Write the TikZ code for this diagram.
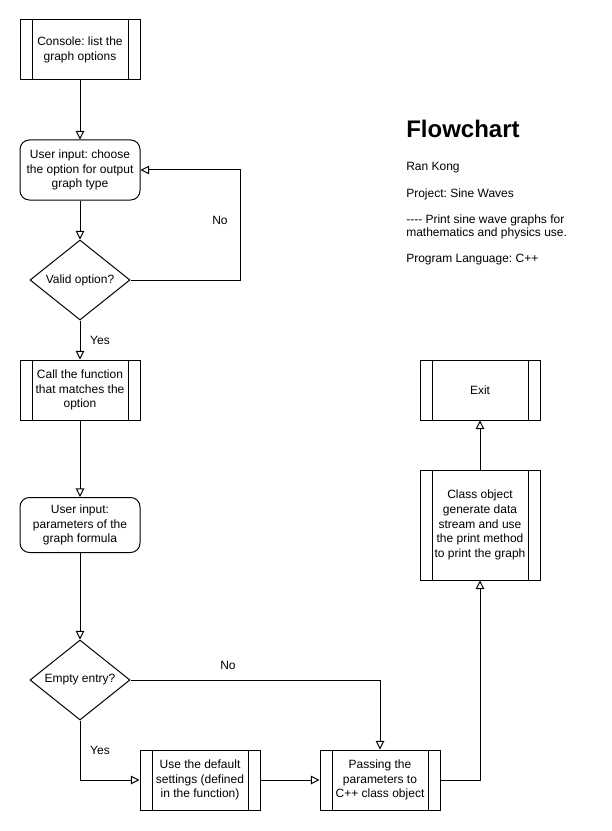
\documentclass[tikz,border=0pt]{standalone}
\usepackage{fontspec}
\setmainfont{Liberation Sans}
\frenchspacing
\usetikzlibrary{arrows.meta,shapes.geometric}
\begin{document}
\begin{tikzpicture}[x=0.75pt,y=-0.75pt,
  base/.style={draw, line width=0.75pt, font=\fontsize{9pt}{11pt}\selectfont\frenchspacing, align=center, inner sep=0pt},
  proc/.style={base, minimum width=90pt, minimum height=45pt,
    path picture={
      \draw[line width=0.75pt] ([xshift=9pt]path picture bounding box.north west) -- ([xshift=9pt]path picture bounding box.south west);
      \draw[line width=0.75pt] ([xshift=-9pt]path picture bounding box.north east) -- ([xshift=-9pt]path picture bounding box.south east);}},
  rbox/.style={base, rounded corners=7pt, minimum width=90pt, minimum height=45pt},
  dec/.style={base, diamond, aspect=1.25, minimum width=75pt, minimum height=60pt},
  lbl/.style={font=\fontsize{9pt}{11pt}\selectfont, inner sep=0pt},
  txt/.style={font=\fontsize{9pt}{10.3pt}\selectfont\frenchspacing, inner sep=0pt, anchor=base west},
  arr/.style={line width=0.75pt, -{Triangle[open, length=6.5pt, width=6.5pt]}}
]
\fill[white] (0,0) rectangle (611,831);
\useasboundingbox (0,0) rectangle (611,831);

% nodes
\node[proc] (console) at (80,50) {Console: list the\\graph options};
\node[rbox] (ui1) at (80,170) {User input: choose\\the option for output\\graph type};
\node[dec] (valid) at (80,280) {Valid option?};
\node[proc] (call) at (80,390) {Call the function\\that matches the\\option};
\node[rbox, minimum height=41.25pt] (ui2) at (80,525) {User input:\\parameters of the\\graph formula};
\node[dec] (empty) at (80,680) {Empty entry?};
\node[proc] (default) at (200,780) {Use the default\\settings (defined\\in the function)};
\node[proc] (pass) at (380,780) {Passing the\\parameters to\\C++ class object};
\node[proc, minimum height=82.5pt] (class) at (480,525) {Class object\\generate data\\stream and use\\the print method\\to print the graph};
\node[proc] (exit) at (480,390) {Exit};

% labels
\node[lbl] (no1) at (220,220) {No};
\node[lbl] (yes1) at (100,340) {Yes};
\node[lbl] (no2) at (228,665) {No};
\node[lbl] (yes2) at (100,750) {Yes};

% text block
\node[txt, font=\fontsize{18pt}{20pt}\selectfont\bfseries] (title) at (406,138) {Flowchart};
\node[txt] (author) at (406,171) {Ran Kong};
\node[txt] (project) at (406,197) {Project: Sine Waves};
\node[txt] (desc1) at (406,223) {{-}{-}{-}{-} Print sine wave graphs for};
\node[txt] (desc2) at (406,236.7) {mathematics and physics use.};
\node[txt] (lang) at (406,262) {Program Language: C++};

% connectors
\draw[arr] (console.south) -- (ui1.north);
\draw[arr] (ui1.south) -- (valid.north);
\coordinate (loop) at (240,280);
\draw[arr] (valid.east) -- (loop) |- (ui1.east);
\draw[arr] (valid.south) -- (call.north);
\draw[arr] (call.south) -- (ui2.north);
\draw[arr] (ui2.south) -- (empty.north);
\draw[arr] (empty.east) -| (pass.north);
\draw[arr] (empty.south) |- (default.west);
\draw[arr] (default.east) -- (pass.west);
\draw[arr] (pass.east) -| (class.south);
\draw[arr] (class.north) -- (exit.south);
\end{tikzpicture}
\end{document}
